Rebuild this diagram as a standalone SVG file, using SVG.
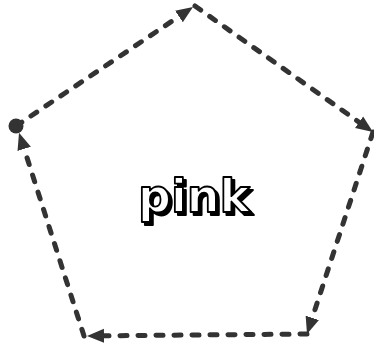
<svg xmlns="http://www.w3.org/2000/svg" width="374" height="347" viewBox="0 0 374 347">
<style>
.edge{fill:none;stroke:#333;stroke-width:5;stroke-dasharray:7 11;stroke-linecap:round;marker-end:url(#arr)}
.lbl{font-family:"DejaVu Sans",sans-serif;font-weight:bold;font-size:46px;text-anchor:middle;fill:#fff;stroke:#000;stroke-width:1.8;stroke-linejoin:round;filter:url(#shadow)}
</style>
<defs>
<marker id="arr" markerUnits="userSpaceOnUse" markerWidth="20" markerHeight="16" viewBox="0 -8 20 16" refX="0" refY="0" orient="auto">
<path d="M0,-7 L17,0 L0,7 Z" fill="#333" stroke="none"/>
</marker>
<filter id="shadow" x="-10%" y="-20%" width="130%" height="150%">
<feOffset in="SourceAlpha" dx="2.5" dy="2.5" result="off"/>
<feMerge><feMergeNode in="off"/><feMergeNode in="SourceGraphic"/></feMerge>
</filter>
</defs>
<g id="connectors">
<line class="edge" x1="16" y1="126" x2="178.9" y2="16.5"/>
<line class="edge" x1="195" y1="6" x2="359.1" y2="122.2"/>
<line class="edge" x1="373" y1="132" x2="312.3" y2="317.8"/>
<line class="edge" x1="307" y1="334" x2="104" y2="335.8"/>
<line class="edge" x1="84" y1="336" x2="24.2" y2="148.9"/>
</g>
<g id="start">
<circle cx="16" cy="126" r="7.5" fill="#333"/>
</g>
<g id="label">
<text class="lbl" x="194" y="212">pink</text>
</g>
</svg>
